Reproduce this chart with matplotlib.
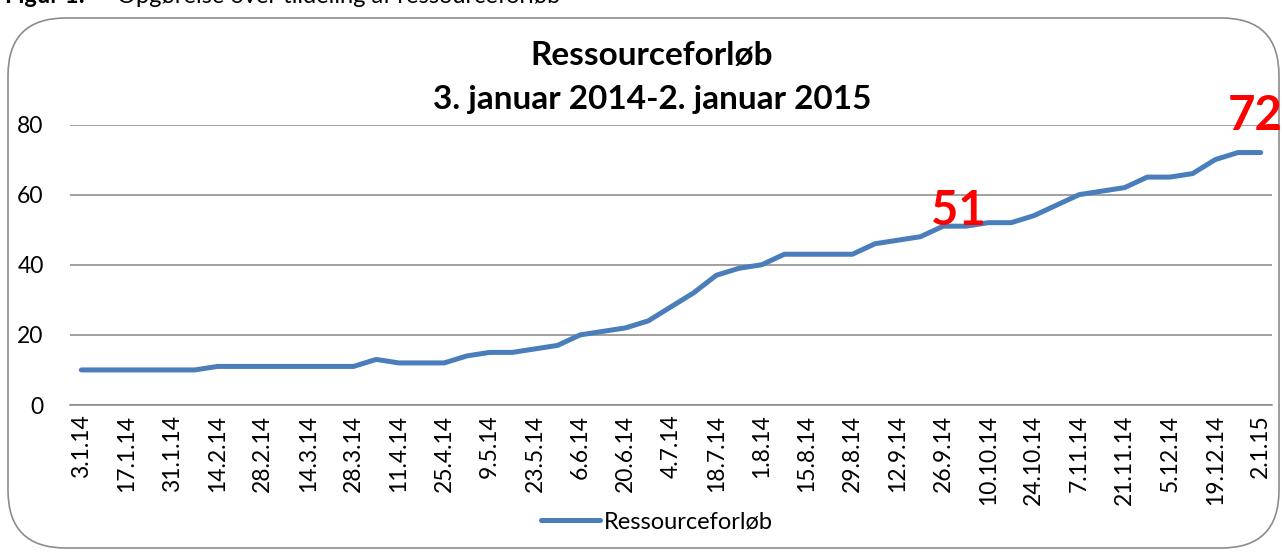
import matplotlib
matplotlib.use("Agg")
import matplotlib.pyplot as plt
from matplotlib.patches import FancyBboxPatch

plt.rcParams['font.family'] = ['Lato', 'DejaVu Sans']

# weekly values, 3.1.14 .. 2.1.15 (53 weeks)
values = [10, 10, 10, 10, 10, 10,
          11, 11, 11, 11, 11, 11, 11,
          13, 12, 12, 12, 14, 15, 15, 16, 17,
          20, 21, 22, 24, 28, 32, 37, 39, 40,
          43, 43, 43, 43, 46, 47, 48, 51, 51,
          52, 52, 54, 57, 60, 61, 62, 65, 65,
          66, 70, 72, 72]

# tick labels shown every second week
tick_labels = ['3.1.14', '17.1.14', '31.1.14', '14.2.14', '28.2.14', '14.3.14',
               '28.3.14', '11.4.14', '25.4.14', '9.5.14', '23.5.14', '6.6.14',
               '20.6.14', '4.7.14', '18.7.14', '1.8.14', '15.8.14', '29.8.14',
               '12.9.14', '26.9.14', '10.10.14', '24.10.14', '7.11.14', '21.11.14',
               '5.12.14', '19.12.14', '2.1.15']

series_name = 'Ressourceforløb'
title_lines = ['Ressourceforløb', '3. januar 2014-2. januar 2015']
y_ticks = [0, 20, 40, 60, 80]
highlight_idx = [38, 52]

W, H = 1282, 552
fig = plt.figure(figsize=(W / 100, H / 100), dpi=100)

# outer rounded frame
box = FancyBboxPatch((8 / W, 4 / H), (1279 - 8) / W, (534 - 4) / H,
                     boxstyle="round,pad=0,rounding_size=0.045",
                     transform=fig.transFigure, facecolor='white',
                     edgecolor='#8c8c8c', linewidth=1.2, mutation_aspect=W / H,
                     zorder=-5)
fig.patches.append(box)

# caption above (partially cut in the original)
fig.text(5 / W, 1 - 3 / H, 'Figur 1:', fontsize=17, fontweight='bold',
         va='baseline', ha='left')
fig.text(117 / W, 1 - 3 / H, 'Opgørelse over tildeling af ressourceforløb',
         fontsize=17, va='baseline', ha='left')

ax = fig.add_axes([70 / W, 1 - 405 / H, (1272 - 70) / W, (405 - 124.5) / H])
ax.set_zorder(2)
ax.patch.set_visible(False)
x = list(range(len(values)))
line, = ax.plot(x, values, color='#4A7EBB', linewidth=3.6,
                solid_capstyle='round', solid_joinstyle='round',
                label=series_name, zorder=3)

ax.set_xlim(-0.5, len(values) - 0.5)
ax.set_ylim(0, 80)
ax.set_yticks(y_ticks)
ax.set_xticks(range(0, len(values), 2))
ax.set_xticklabels(tick_labels, rotation=90, fontsize=16.5)
ax.tick_params(axis='x', length=0, pad=7)
ax.tick_params(axis='y', length=0, pad=19, labelsize=16.5)
ax.yaxis.grid(True, color='#868686', linewidth=1.1)
ax.set_axisbelow(True)
for s in ['left', 'right', 'top']:
    ax.spines[s].set_visible(False)
ax.spines['bottom'].set_color('#868686')
ax.spines['bottom'].set_linewidth(1.1)

# red value labels (offsets in points)
label_offsets = [(11, 1), (-4, 16)]
for idx, (dx, dy) in zip(highlight_idx, label_offsets):
    ax.annotate(str(values[idx]), xy=(idx, values[idx]), xytext=(dx, dy),
                textcoords='offset points', ha='center', va='baseline',
                color='#FF0000', fontsize=34, fontweight='bold',
                annotation_clip=False)

fig.text(652 / W, 1 - 56 / H, title_lines[0], fontsize=24, fontweight='bold',
         ha='center', va='center')
fig.text(652 / W, 1 - 100 / H, title_lines[1], fontsize=24, fontweight='bold',
         ha='center', va='center')

fig.legend(handles=[line], loc='center', bbox_to_anchor=(657 / W, 1 - 522 / H),
           frameon=False, fontsize=17, handlelength=2.5, handletextpad=0.2)

fig.savefig('out.png', dpi=100)
